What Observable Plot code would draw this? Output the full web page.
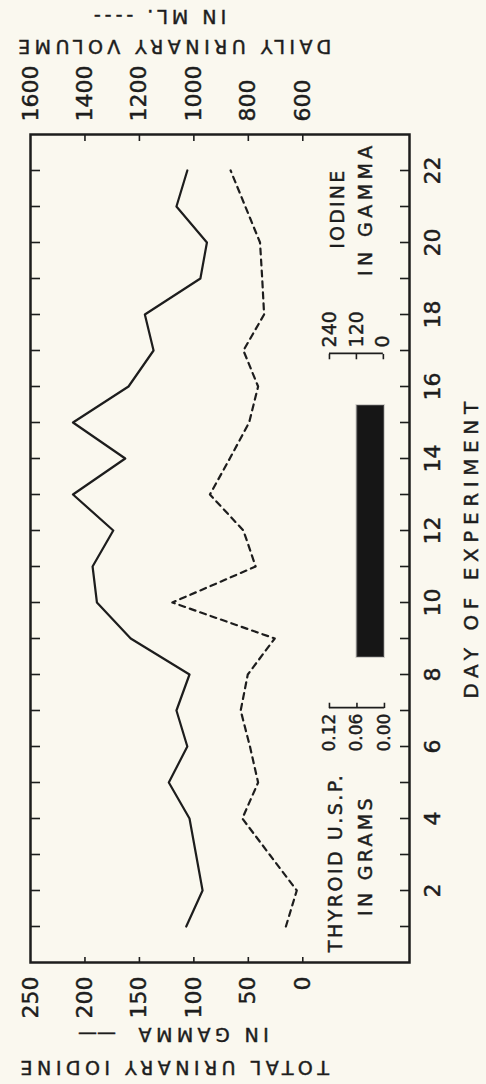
<!DOCTYPE html>
<html><head><meta charset="utf-8">
<script src="https://cdn.jsdelivr.net/npm/d3@7"></script>
<script src="https://cdn.jsdelivr.net/npm/@observablehq/plot@0.6"></script>
<style>
html,body{margin:0;padding:0;background:#faf8ef;width:486px;height:1084px;overflow:hidden}
#wrap{position:absolute;left:0;top:1084px;width:1084px;height:486px;transform-origin:0 0;transform:rotate(-90deg);}
#wrap svg{background:transparent}
#wrap svg text{stroke:#1d1d1d;stroke-width:0.45px}
</style></head><body><div id="wrap"></div>
<script>
// ---- data ----
const days = [1,2,3,4,5,6,7,8,9,10,11,12,13,14,15,16,17,18,19,20,21,22];
const iodineGamma = [107,92,98,104,123,106,116,104,158,189,193,174,211,163,211,160,137,145,94,88,116,106];
const volumeMl = [662,622,722,822,764,794,828,802,703,1079,773,818,941,868,797,764,818,742,749,757,811,865];
const dayLabelTicks = [2,4,6,8,10,12,14,16,18,20,22];
const iodineTicks = [0,50,100,150,200,250];
const volumeTicks = [600,800,1000,1200,1400,1600];
const thyroidDose = [{firstDay: 9, lastDay: 15, grams: 0.06}];
const thyroidScaleTicks = [0, 0.06, 0.12];
const iodineScaleTicks = [0, 120, 240];

// ---- scale helpers (second axis & legend keys share the y scale) ----
const volToY = v => (v - 600) / 4;             // 600 ml at 0 gamma, 1600 ml at 250 gamma
const thyroidToY = g => -75 + g * 420.8;       // legend key for thyroid grams
const iodKeyToY = a => -74 + a * (49.5 / 240); // legend key for iodine gamma
const thyroidKeyX = 7.08, iodineKeyX = 16.92;

const rows = days.map((d, i) => ({day: d, iodine: iodineGamma[i], volume: volumeMl[i]}));
const ink = "#1d1d1d";
const FONT = "'DejaVu Sans', sans-serif";
const frameW = 1084 - 121 - 135, frameH = 486 - 30 - 77;
const T = (s, o) => Plot.text([s], {text: d => d, fill: ink, textAnchor: "middle", lineAnchor: "middle", ...o});

const chart = Plot.plot({
  width: 1084, height: 486,
  marginLeft: 121, marginRight: 135, marginTop: 30, marginBottom: 77,
  x: {domain: [0, 23], axis: null},
  y: {domain: [-98, 250], axis: null},
  style: {fontFamily: FONT, color: ink, background: "transparent"},
  marks: [
    // tick marks (inside the frame)
    Plot.ruleX(days, {stroke: ink, strokeWidth: 1.6, insetBottom: frameH - 10}),
    Plot.ruleX(days, {stroke: ink, strokeWidth: 1.6, insetTop: frameH - 9}),
    Plot.ruleY(iodineTicks.slice(0, -1), {stroke: ink, strokeWidth: 1.6, insetRight: frameW - 6}),
    Plot.ruleY(volumeTicks.slice(0, -1).map(volToY), {stroke: ink, strokeWidth: 1.6, insetLeft: frameW - 6}),
    Plot.frame({stroke: ink, strokeWidth: 2.5}),
    // axes labels
    Plot.axisY(iodineTicks, {anchor: "left", label: null, tickSize: 0, tickPadding: 14, fontSize: 22, fill: ink}),
    Plot.axisY(volumeTicks.map(volToY), {anchor: "right", label: null, tickSize: 0, tickPadding: 13, fontSize: 22, fill: ink,
      tickFormat: y => String(Math.round(600 + 4 * y))}),
    Plot.axisX(dayLabelTicks, {anchor: "bottom", label: null, tickSize: 0, tickPadding: 15, fontSize: 22, fill: ink}),
    // data lines
    Plot.line(rows, {x: "day", y: "iodine", stroke: ink, strokeWidth: 2.2}),
    Plot.line(rows, {x: "day", y: d => volToY(d.volume), stroke: ink, strokeWidth: 2.2, strokeDasharray: "6,5"}),
    // thyroid dosing bar
    Plot.rect(thyroidDose, {x1: d => d.firstDay - 0.5, x2: d => d.lastDay + 0.5,
      y1: () => thyroidToY(0), y2: d => thyroidToY(d.grams), fill: "#161616", stroke: "#888", strokeWidth: 2, strokeOpacity: 0.35}),
    // thyroid key
    Plot.ruleX([thyroidKeyX], {y1: thyroidToY(0), y2: thyroidToY(0.12), stroke: ink, strokeWidth: 1.6}),
    Plot.ruleY(thyroidScaleTicks, {y: thyroidToY, x1: thyroidKeyX, x2: thyroidKeyX + 0.15, stroke: ink, strokeWidth: 1.6}),
    Plot.text(thyroidScaleTicks, {x: thyroidKeyX, y: thyroidToY, text: d => d.toFixed(2), textAnchor: "end", dx: -6, fontSize: 17, fill: ink}),
    Plot.text(["THYROID U.S.P."], {x: 2.78, y: -30, text: d => d, fontSize: 19, fill: ink}),
    Plot.text(["IN GRAMS"], {x: 2.97, y: -57.6, text: d => d, fontSize: 19, fill: ink}),
    // iodine key
    Plot.ruleX([iodineKeyX], {y1: iodKeyToY(0), y2: iodKeyToY(240), stroke: ink, strokeWidth: 1.6}),
    Plot.ruleY(iodineScaleTicks, {y: iodKeyToY, x1: iodineKeyX - 0.15, x2: iodineKeyX, stroke: ink, strokeWidth: 1.6}),
    Plot.text(iodineScaleTicks, {x: iodineKeyX, y: iodKeyToY, text: d => String(d), textAnchor: "start", dx: 6, fontSize: 19, fill: ink}),
    Plot.text(["IODINE"], {x: 20.94, y: -32, text: d => d, fontSize: 19, fill: ink}),
    Plot.text(["IN GAMMA"], {x: 20.94, y: -57.6, text: d => d, fontSize: 19, fill: ink}),
    // axis titles
    T("TOTAL URINARY IODINE", {frameAnchor: "left", rotate: -90, dx: -105, dy: -47.5, fontSize: 19}),
    T("IN GAMMA", {frameAnchor: "left", rotate: -90, dx: -72, dy: -18.5, fontSize: 19}),
    T("——", {frameAnchor: "left", rotate: -90, dx: -72, dy: -123, fontSize: 19}),
    T("DAILY URINARY VOLUME", {frameAnchor: "right", rotate: -90, dx: 88, dy: -47.5, fontSize: 19}),
    T("IN ML. ----", {frameAnchor: "right", rotate: -90, dx: 118, dy: -62, fontSize: 19}),
    T("DAY OF EXPERIMENT", {frameAnchor: "bottom", dx: 1, dy: 62, fontSize: 20})
  ]
});
// wide letter spacing of the original lettering
const spacing = {"TOTAL URINARY IODINE": 4.5, "DAILY URINARY VOLUME": 4.5, "IN GAMMA": 4.4, "IN ML. ----": 4,
  "DAY OF EXPERIMENT": 5.6, "THYROID U.S.P.": 2.5, "IN GRAMS": 3.3, "IODINE": 2.2};
d3.select(chart).selectAll("text").each(function() {
  const s = spacing[this.textContent];
  if (s != null) this.style.letterSpacing = s + "px";
});
document.getElementById("wrap").appendChild(chart);
</script></body></html>
